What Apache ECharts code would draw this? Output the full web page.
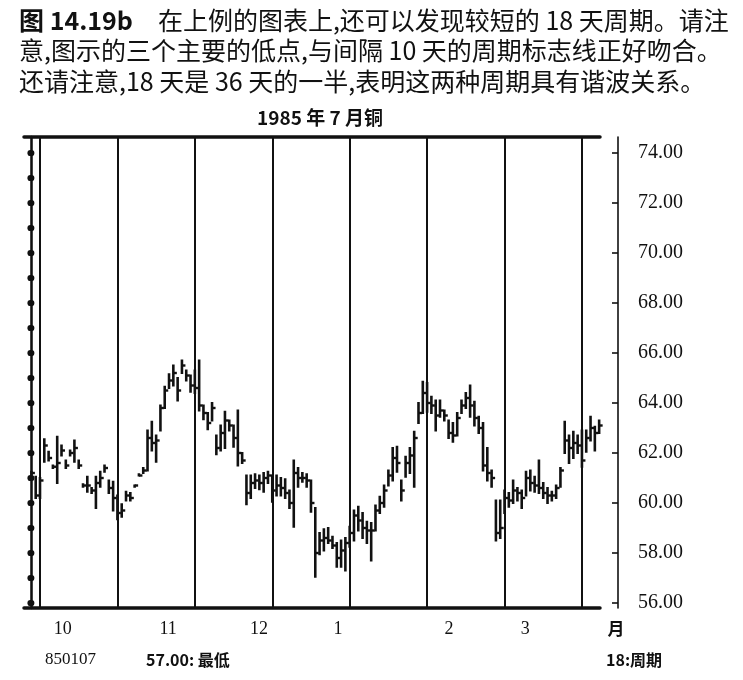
<!DOCTYPE html>
<html>
<head>
<meta charset="utf-8">
<script src="https://cdn.jsdelivr.net/npm/echarts@6/dist/echarts.min.js"></script>
<style>
html,body{margin:0;padding:0;background:#fff;}
#c{width:743px;height:680px;}
</style>
</head>
<body>
<div id="c"></div>
<script>
// ---- data ----
const highs = [
 61.25,61.05,61.0,62.55,62.05,61.5,62.65,62.3,61.7,62.1,
 62.5,61.7,60.75,61.05,60.6,61.05,61.25,61.5,60.9,60.85,
 60.3,59.95,60.45,60.4,60.7,61.15,61.4,62.9,63.25,62.7,
 63.9,64.65,65.15,65.5,65.0,65.7,65.3,65.1,65.3,65.7,
 63.9,63.6,64.0,62.7,63.1,63.65,63.3,63.1,63.7,62.0,
 61.1,61.1,61.15,61.1,61.2,61.25,61.1,61.1,61.0,60.95,
 60.5,61.7,61.4,61.2,61.15,60.9,59.8,58.8,58.95,59.0,
 58.65,58.4,58.5,58.6,59.05,59.7,59.85,59.6,59.25,59.2,
 59.9,60.25,60.7,61.3,62.2,62.25,60.9,61.85,62.2,62.85,
 64.0,64.85,64.8,64.25,64.1,64.1,63.7,63.3,63.2,63.6,
 64.1,64.4,64.7,64.05,63.45,63.2,62.2,61.3,60.1,60.1,
 60.5,60.4,60.9,60.6,60.5,61.25,61.3,61.05,61.7,60.8,
 60.6,60.45,60.7,61.4,63.25,62.7,62.85,62.7,62.9,62.9,
 63.45,63.05,63.3
];
const lows = [
 61.15,60.2,60.2,61.65,61.7,61.4,60.8,61.9,61.4,61.9,
 61.65,61.4,60.65,60.45,60.4,59.8,60.65,61.25,60.4,59.7,
 59.35,59.45,60.1,60.1,60.65,61.1,61.2,61.3,62.1,61.65,
 62.9,63.8,64.6,64.7,64.1,65.2,64.9,64.45,64.4,63.7,
 63.35,62.95,63.3,61.95,62.1,62.2,62.9,62.25,61.5,61.6,
 59.95,60.2,60.6,60.55,60.45,60.8,60.05,60.3,60.3,60.2,
 59.8,59.05,60.65,60.85,60.65,59.65,57.05,57.95,58.1,58.4,
 58.2,57.45,57.45,57.3,58.25,58.5,58.9,58.6,58.4,57.7,
 58.9,59.6,59.85,60.7,60.9,61.25,60.1,61.05,61.2,60.65,
 63.2,63.6,63.65,63.6,62.9,63.45,63.3,62.6,62.45,62.7,
 63.6,63.8,63.45,63.1,62.8,61.3,60.9,60.65,58.5,58.6,
 59.6,59.85,60.0,60.1,59.8,60.3,60.5,60.45,60.4,60.2,
 60.0,60.1,60.2,60.65,62.0,61.6,61.8,62.0,61.45,62.05,
 62.5,62.1,62.8
];
const closes = [
 61.2,60.3,60.9,62.3,61.8,61.45,61.6,62.1,61.5,62.0,
 62.2,61.5,60.7,60.7,60.5,60.8,61.0,61.4,60.6,60.2,
 59.6,59.7,60.3,60.2,60.7,61.1,61.3,62.6,62.4,62.5,
 63.8,64.5,64.9,65.2,64.5,65.5,65.1,64.7,64.6,63.9,
 63.6,63.2,63.8,62.2,62.8,63.3,63.1,62.6,62.0,61.7,
 60.4,60.8,60.9,60.8,61.0,61.1,60.5,60.7,60.6,60.4,
 60.0,61.2,61.0,61.0,60.9,60.0,58.0,58.5,58.6,58.5,
 58.3,57.8,58.1,58.4,58.8,59.5,59.3,59.0,58.9,58.9,
 59.7,60.0,60.5,61.1,61.8,61.6,60.5,61.6,61.9,62.6,
 63.6,64.4,64.0,63.9,63.5,63.7,63.5,62.8,62.7,63.4,
 63.9,64.2,63.9,63.4,63.0,61.5,61.2,61.0,58.8,59.0,
 60.2,60.1,60.5,60.4,60.2,61.0,60.8,60.7,60.6,60.4,
 60.3,60.3,60.6,61.3,62.5,62.2,62.4,62.3,61.7,62.6,
 63.0,62.8,63.1
];
const cycleDays = [2, 20, 38, 56, 74, 92, 110, 128];   // 18-day cycle markers
const monthLabels = ['10', '11', '12', '1', '2', '3'];
const monthPos = [7.3, 31.8, 52.9, 71.3, 97.1, 114.8];
const priceLabels = [56, 58, 60, 62, 64, 66, 68, 70, 72, 74];
const priceDots = [56,57,58,59,60,61,62,63,64,65,66,67,68,69,70,71,72,73,74];

const headerLines = [
  '{b|图 14.19b}　在上例的图表上,还可以发现较短的 18 天周期。请注',
  '意,图示的三个主要的低点,与间隔 10 天的周期标志线正好吻合。',
  '还请注意,18 天是 36 天的一半,表明这两种周期具有谐波关系。'
];
const chartTitle = '1985 年 7 月铜';
const footLeft = '850107';
const footMid = '57.00: 最低';
const footRight = '18:周期';
const monthUnit = '月';

// ---- chart ----
const ohlc = highs.map((h, i) => [i, h, lows[i], closes[i]]);
const INK = '#111';
const CJK = "'Noto Sans CJK SC', sans-serif";
const SERIF = "'Liberation Serif', serif";
const yMin = 55.8, yMax = 74.64, xMin = -1.72, xMax = 132.2;

function renderItem(params, api) {
  const x = api.value(0);
  const hi = api.coord([x, api.value(1)]);
  const lo = api.coord([x, api.value(2)]);
  const cl = api.coord([x, api.value(3)]);
  return {
    type: 'group',
    children: [
      { type: 'line', shape: { x1: hi[0], y1: hi[1] - 1, x2: lo[0], y2: lo[1] + 1 },
        style: { stroke: INK, lineWidth: 2.6 } },
      { type: 'line', shape: { x1: cl[0], y1: cl[1], x2: cl[0] + 3.5, y2: cl[1] },
        style: { stroke: INK, lineWidth: 2.4 } }
    ]
  };
}

function nearestMonth(v) {
  let best = 0;
  for (let k = 1; k < monthPos.length; k++) {
    if (Math.abs(monthPos[k] - v) < Math.abs(monthPos[best] - v)) best = k;
  }
  return monthLabels[best];
}

const chart = echarts.init(document.getElementById('c'), null, { renderer: 'canvas' });
const yBase = { type: 'value', min: yMin, max: yMax, splitLine: { show: false }, scale: true };

chart.setOption({
  animation: false,
  backgroundColor: '#fff',
  grid: { left: 24, right: 143, top: 137, bottom: 72, containLabel: false, outerBoundsMode: 'none' },
  xAxis: [
    { type: 'value', min: xMin, max: xMax, position: 'bottom',
      axisLine: { show: true, lineStyle: { color: INK, width: 3.5 } },
      axisTick: { show: false }, splitLine: { show: false },
      axisLabel: { show: true, customValues: monthPos, formatter: nearestMonth, margin: 12,
        fontFamily: SERIF, fontSize: 18, color: INK } },
    { type: 'value', min: xMin, max: xMax, position: 'top',
      axisLine: { show: true, lineStyle: { color: INK, width: 3.5 } },
      axisTick: { show: false }, axisLabel: { show: false }, splitLine: { show: false } }
  ],
  yAxis: [
    Object.assign({}, yBase, { position: 'left', offset: 0,
      axisLine: { show: true, lineStyle: { color: INK, width: 2.5 } },
      axisTick: { show: true, customValues: priceDots, length: 1, inside: false,
        lineStyle: { color: INK, width: 6, cap: 'round' } },
      axisLabel: { show: false } }),
    Object.assign({}, yBase, { position: 'right', offset: 12,
      axisLine: { show: true, lineStyle: { color: INK, width: 1.2 } },
      axisTick: { show: true, customValues: priceDots, length: 1, inside: true,
        lineStyle: { color: INK, width: 5, cap: 'round' } },
      axisLabel: { show: true, customValues: priceLabels, margin: 26,
        formatter: v => Number(v).toFixed(2), fontFamily: SERIF, fontSize: 20, color: INK } }),
    Object.assign({}, yBase, { position: 'right', offset: 18,
      axisLine: { show: true, lineStyle: { color: INK, width: 1.6 } },
      axisTick: { show: true, customValues: priceLabels, length: 6, inside: true,
        lineStyle: { color: INK, width: 1.6 } },
      axisLabel: { show: false } })
  ],
  series: [
    { type: 'custom', name: 'copper', renderItem: renderItem, data: ohlc,
      xAxisIndex: 0, yAxisIndex: 0, encode: { x: 0, y: [1, 2, 3] }, silent: true },
    { type: 'line', data: [], xAxisIndex: 0, yAxisIndex: 0, silent: true,
      markLine: { silent: true, symbol: ['none', 'none'], label: { show: false },
        lineStyle: { color: INK, width: 2, type: 'solid' },
        data: cycleDays.map(d => ({ xAxis: d })) } }
  ],
  graphic: [
    ...headerLines.map((t, k) => ({
      type: 'text', x: 19, y: 20 + k * 30.5,
      style: { text: t, fontFamily: CJK, fontSize: 25, fill: INK,
        textAlign: 'left', align: 'left', textVerticalAlign: 'middle', verticalAlign: 'middle',
        rich: { b: { fontFamily: CJK, fontSize: 25, fontWeight: 'bold', fill: INK, color: INK } } }
    })),
    { type: 'text', x: 320, y: 118,
      style: { text: chartTitle, fontFamily: CJK, fontSize: 19, fontWeight: 'bold', fill: INK,
        textAlign: 'center', align: 'center', textVerticalAlign: 'middle', verticalAlign: 'middle' } },
    { type: 'text', x: 616, y: 629,
      style: { text: monthUnit, fontFamily: CJK, fontSize: 17, fontWeight: 'bold', fill: INK,
        textAlign: 'center', align: 'center', textVerticalAlign: 'middle', verticalAlign: 'middle' } },
    { type: 'text', x: 45, y: 660,
      style: { text: footLeft, fontFamily: SERIF, fontSize: 17, fill: INK,
        textAlign: 'left', align: 'left', textVerticalAlign: 'middle', verticalAlign: 'middle' } },
    { type: 'text', x: 146, y: 660,
      style: { text: footMid, fontFamily: CJK, fontSize: 16, fontWeight: 'bold', fill: INK,
        textAlign: 'left', align: 'left', textVerticalAlign: 'middle', verticalAlign: 'middle' } },
    { type: 'text', x: 606, y: 660,
      style: { text: footRight, fontFamily: CJK, fontSize: 16, fontWeight: 'bold', fill: INK,
        textAlign: 'left', align: 'left', textVerticalAlign: 'middle', verticalAlign: 'middle' } }
  ]
});
</script>
</body>
</html>
